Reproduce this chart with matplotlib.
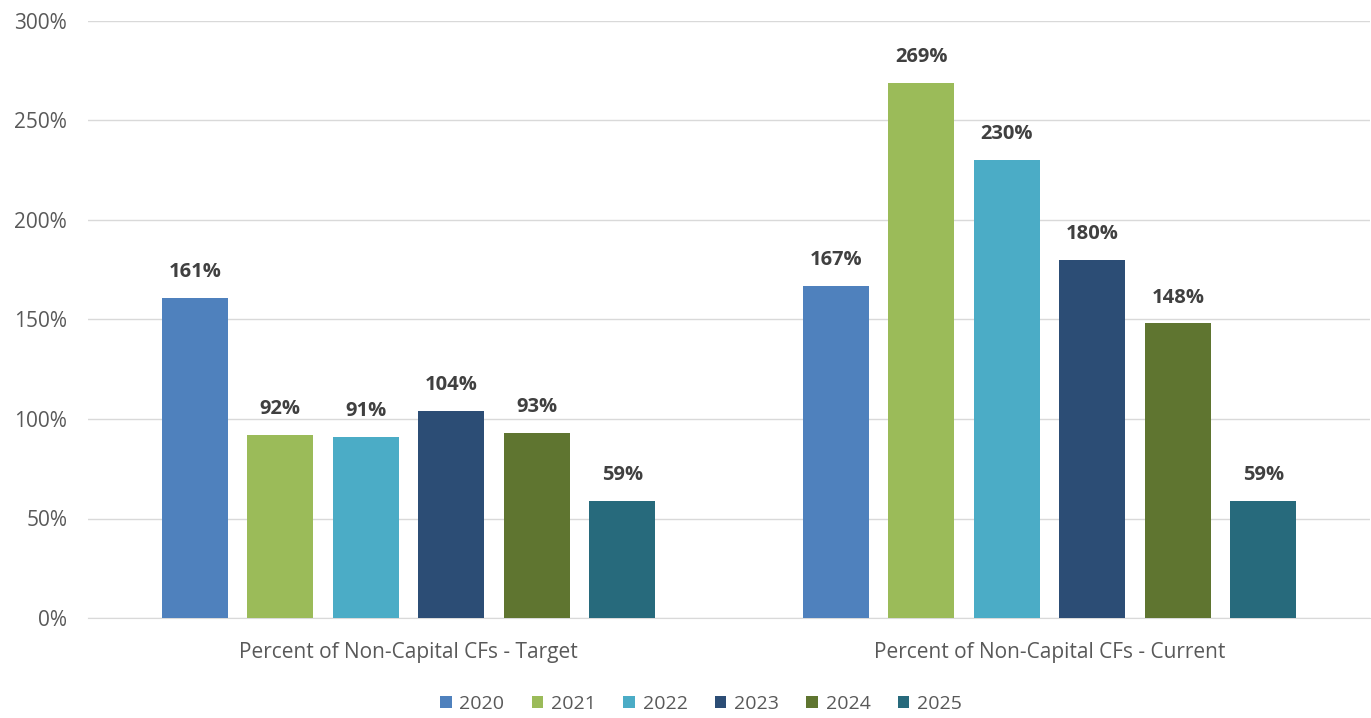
import matplotlib
matplotlib.use("Agg")
import matplotlib.pyplot as plt
import numpy as np
from matplotlib.ticker import FuncFormatter

categories = ["Percent of Non-Capital CFs - Target", "Percent of Non-Capital CFs - Current"]
years = ["2020", "2021", "2022", "2023", "2024", "2025"]
values_2020 = [161, 167]
values_2021 = [92, 269]
values_2022 = [91, 230]
values_2023 = [104, 180]
values_2024 = [93, 148]
values_2025 = [59, 59]
series = [values_2020, values_2021, values_2022, values_2023, values_2024, values_2025]
colors = ["#4F81BD", "#9BBB59", "#4BACC6", "#2C4D75", "#5F7530", "#276A7C"]

plt.rcParams['font.family'] = ['Open Sans', 'DejaVu Sans']

fig = plt.figure(figsize=(13.71, 7.18), dpi=100)
ax = fig.add_axes([88/1371, 1-618/718, 1-88/1371-1/1371, (618-21)/718])

x = np.arange(len(categories))
step = 0.1334
width = 0.103
n = len(series)
for i, (vals, c, yr) in enumerate(zip(series, colors, years)):
    pos = x + (i - (n-1)/2) * step
    bars = ax.bar(pos, vals, width=width, color=c, label=yr, zorder=3)
    for b, v in zip(bars, vals):
        ax.text(b.get_x() + b.get_width()/2, v + 13, f"{v}%", ha="center", va="center",
                fontsize=14.5, fontweight="bold", color="#404040")

ax.set_xlim(-0.5, 1.5)
ax.set_ylim(0, 300)
ax.set_yticks(np.arange(0, 301, 50))
ax.yaxis.set_major_formatter(FuncFormatter(lambda v, p: f"{int(v)}%"))
ax.set_xticks(x)
ax.set_xticklabels(categories)
ax.grid(axis="y", color="#D9D9D9", linewidth=1, zorder=0)
for s in ["top", "right", "left"]:
    ax.spines[s].set_visible(False)
ax.spines["bottom"].set_color("#D9D9D9")
ax.tick_params(axis="both", length=0, colors="#595959")
ax.tick_params(axis="y", pad=15, labelsize=15)
ax.tick_params(axis="x", pad=17, labelsize=15)

leg = fig.legend(loc="center", bbox_to_anchor=(701/1371, 1-704/718), ncol=6, frameon=False,
                 fontsize=14, handlelength=0.6, handleheight=0.6, columnspacing=1.4, handletextpad=0.4)
for t in leg.get_texts():
    t.set_color("#595959")

fig.savefig("out.png", dpi=100)
